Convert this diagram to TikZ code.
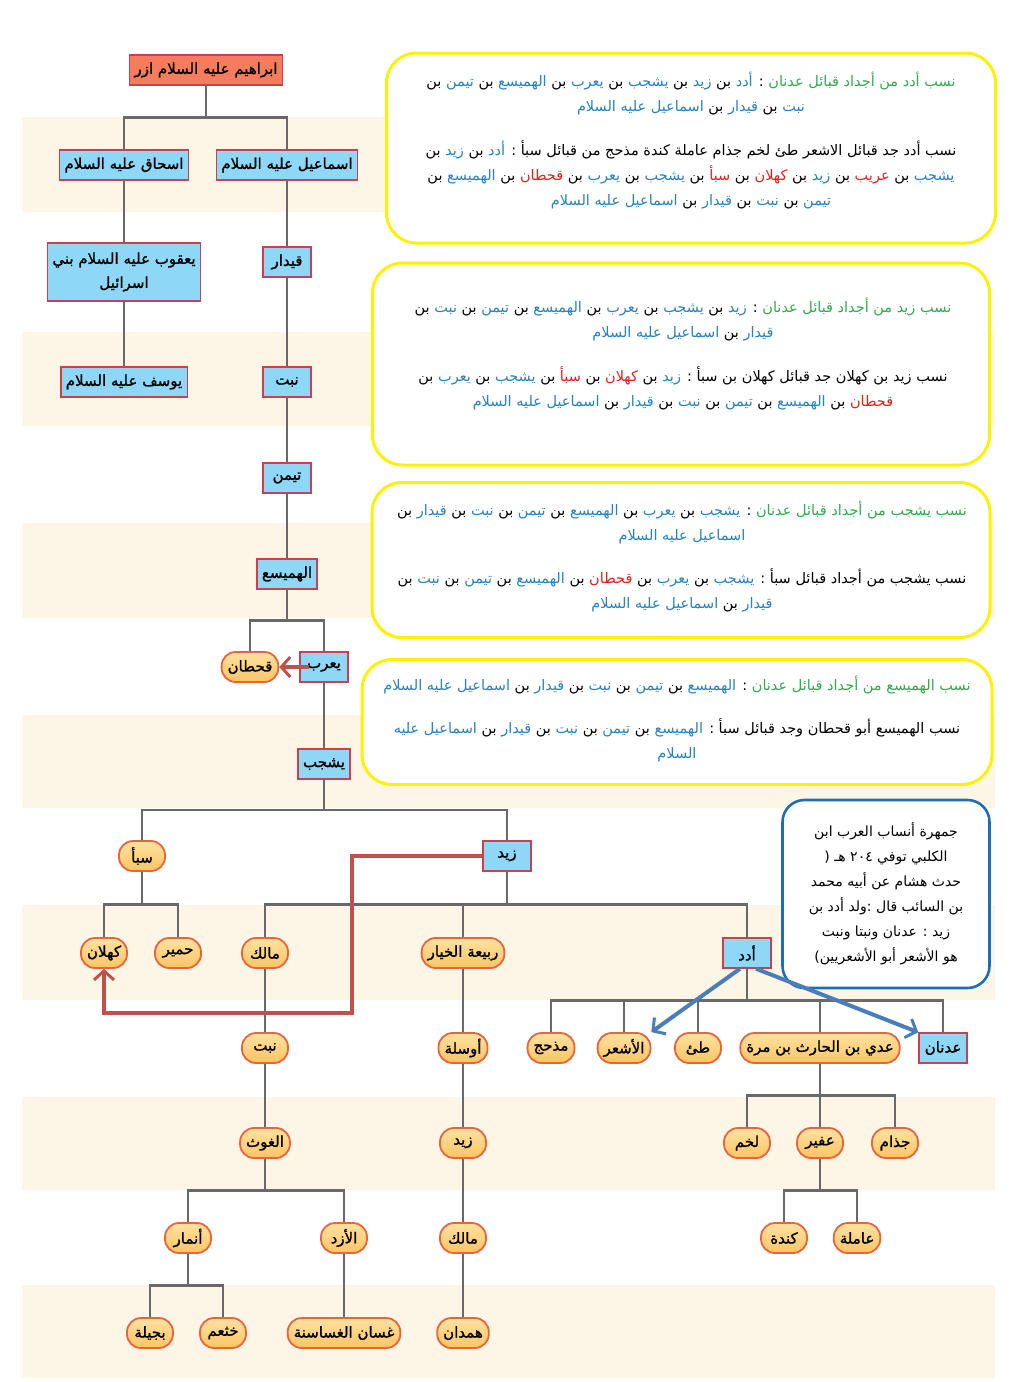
\documentclass[tikz,border=0pt]{standalone}
\usepackage{fontspec}
\newfontfamily\arabicfont[Script=Arabic]{DejaVu Sans}
\newfontfamily\treefont[Script=Arabic,FakeBold=1.2]{DejaVu Sans}
% coloured faces: the colour belongs to the font, so TeX--XeT can reverse the line freely
\newfontfamily\namefont[Script=Arabic,Color=2882BE]{DejaVu Sans}
\newfontfamily\tribefont[Script=Arabic,Color=32AA50]{DejaVu Sans}
\newfontfamily\qahtanfont[Script=Arabic,Color=E61E1E]{DejaVu Sans}
\TeXXeTstate=1
\usepackage{tikz}
\usetikzlibrary{positioning,arrows.meta,backgrounds,calc}

\definecolor{bandtan}{RGB}{253,245,230}
\definecolor{linkgray}{RGB}{105,105,105}
\definecolor{rootfill}{RGB}{245,124,92}
\definecolor{edgered}{RGB}{200,65,80}
\definecolor{sonblue}{RGB}{143,215,246}
\definecolor{pilltop}{RGB}{255,226,160}
\definecolor{pillbot}{RGB}{251,196,100}
\definecolor{pilledge}{RGB}{232,100,60}
\definecolor{notebord}{RGB}{255,242,0}
\definecolor{sourceblue}{RGB}{30,110,180}
\definecolor{redarrow}{RGB}{192,80,77}
\definecolor{bluearrow}{RGB}{74,126,187}

\newcommand{\artxt}[1]{\beginR#1\endR}
\newcommand{\txtb}[1]{{\namefont#1}}
\newcommand{\txtg}[1]{{\tribefont#1}}
\newcommand{\txtr}[1]{{\qahtanfont#1}}

\begin{document}
\begin{tikzpicture}[
  x=1pt, y=-1pt,
  font=\treefont\fontsize{15}{18}\selectfont,
  son/.style={rectangle, draw=edgered, line width=1.4pt, fill=sonblue,
              minimum width=48pt, minimum height=30pt, inner xsep=5pt, inner ysep=2pt},
  rootbox/.style={son, fill=rootfill},
  tribe/.style={rectangle, rounded corners=14pt, draw=pilledge, line width=1.8pt,
                top color=pilltop, bottom color=pillbot, minimum width=46pt,
                minimum height=30pt, inner xsep=6pt, inner ysep=2pt},
  link/.style={draw=linkgray, line width=2.2pt},
  elbow/.style={to path={|- ($(\tikztostart)!.5!(\tikztotarget)$) -| (\tikztotarget)}},
  note/.style={rectangle, rounded corners=30pt, draw=notebord, line width=3pt, fill=white},
  notetext/.style={align=center, font=\arabicfont\fontsize{14.5}{25}\selectfont},
  source/.style={rectangle, rounded corners=22pt, draw=sourceblue, line width=2.6pt,
                 fill=white, minimum width=207pt, minimum height=188pt, align=center,
                 font=\arabicfont\fontsize{14}{25}\selectfont},
  hint/.style={-{Straight Barb[length=9pt,width=20pt,line width=3pt]}, line width=4.5pt},
  node distance=95pt, on grid
]
\useasboundingbox (0,0) rectangle (1022,1382);

% ── Ibrahim line ─────────────────────────────────────────────────────────────
\node[rootbox] (ibrahim) at (206,70) {\artxt{ابراهيم عليه السلام ازر}};
\node[son, below left=95pt and 82pt of ibrahim]  (ishaq)  {\artxt{اسحاق عليه السلام}};
\node[son, below right=95pt and 81pt of ibrahim] (ismail) {\artxt{اسماعيل عليه السلام}};
\node[son, below=107pt of ishaq, align=center, minimum width=152pt, minimum height=58pt,
      font=\treefont\fontsize{15}{24}\selectfont] (yaqub)
  {\artxt{يعقوب عليه السلام بني}\\\artxt{اسرائيل}};
\node[son, below=110pt of yaqub]  (yusuf)  {\artxt{يوسف عليه السلام}};
\node[son, below=97pt of ismail]  (qaydar) {\artxt{قيدار}};
\node[son, below=120pt of qaydar] (nabit)  {\artxt{نبت}};
\node[son, below=96pt of nabit]   (taiman) {\artxt{تيمن}};
\node[son, below=96pt of taiman]  (hamaisa) {\artxt{الهميسع}};
\node[tribe, below left=93pt and 37pt of hamaisa]  (qahtan) {\artxt{قحطان}};
\node[son, below right=93pt and 37pt of hamaisa]   (yarub)  {\artxt{يعرب}};
\node[son, below=97pt of yarub] (yashjub) {\artxt{يشجب}};

% ── Saba and Zaid ────────────────────────────────────────────────────────────
\node[tribe, below left=92pt and 182pt of yashjub] (saba) {\artxt{سبأ}};
\node[son, below right=92pt and 183pt of yashjub]  (zaid) {\artxt{زيد}};
\node[tribe, below left=97pt and 38pt of saba]  (kahlan) {\artxt{كهلان}};
\node[tribe, below right=97pt and 36pt of saba] (himyar) {\artxt{حمير}};
\node[tribe, below left=97pt and 242pt of zaid] (malik)  {\artxt{مالك}};
\node[tribe, below left=97pt and 44pt of zaid]  (rabia)  {\artxt{ربيعة الخيار}};
\node[son, below right=97pt and 240pt of zaid]  (udad)   {\artxt{أدد}};

% ── sons of Udad ─────────────────────────────────────────────────────────────
\node[tribe, below left=95pt and 196pt of udad]  (madhhij) {\artxt{مذحج}};
\node[tribe, below left=95pt and 123pt of udad]  (ashar)   {\artxt{الأشعر}};
\node[tribe, below left=95pt and 49pt of udad]   (tayy)    {\artxt{طئ}};
\node[tribe, below right=95pt and 73pt of udad]  (adi)     {\artxt{عدي بن الحارث بن مرة}};
\node[son, below right=95pt and 196pt of udad]   (adnan)   {\artxt{عدنان}};
\node[tribe, below left=95pt and 73pt of adi]    (lakhm)   {\artxt{لخم}};
\node[tribe, below=95pt of adi]                  (ufair)   {\artxt{عفير}};
\node[tribe, below right=95pt and 75pt of adi]   (judham)  {\artxt{جذام}};
\node[tribe, below left=95pt and 36pt of ufair]  (kinda)   {\artxt{كندة}};
\node[tribe, below right=95pt and 37pt of ufair] (amila)   {\artxt{عاملة}};

% ── Malik and Rabia lines ────────────────────────────────────────────────────
\node[tribe, below=95pt of malik]  (nabtk)  {\artxt{نبت}};
\node[tribe, below=95pt of nabtk]  (ghawth) {\artxt{الغوث}};
\node[tribe, below left=95pt and 77pt of ghawth]  (anmar)   {\artxt{أنمار}};
\node[tribe, below right=95pt and 79pt of ghawth] (azd)     {\artxt{الأزد}};
\node[tribe, below left=95pt and 38pt of anmar]   (bajila)  {\artxt{بجيلة}};
\node[tribe, below right=95pt and 35pt of anmar]  (khatham) {\artxt{خثعم}};
\node[tribe, below=95pt of azd]    (ghassan) {\artxt{غسان الغساسنة}};
\node[tribe, below=95pt of rabia]  (awsala) {\artxt{أوسلة}};
\node[tribe, below=95pt of awsala] (zaidr)  {\artxt{زيد}};
\node[tribe, below=95pt of zaidr]  (malikr) {\artxt{مالك}};
\node[tribe, below=95pt of malikr] (hamdan) {\artxt{همدان}};

% ── lineage notes ────────────────────────────────────────────────────────────
\node[note, minimum width=609pt, minimum height=190pt] (noteA) at (691,148) {};
\node[notetext] (textA) at (691,141) {%
  \artxt{\txtg{نسب أدد من أجداد قبائل عدنان} : \txtb{أدد} بن \txtb{زيد} بن \txtb{يشجب} بن \txtb{يعرب} بن \txtb{الهميسع} بن \txtb{تيمن} بن}\\
  \artxt{\txtb{نبت} بن \txtb{قيدار} بن \txtb{اسماعيل عليه السلام}}\\[19pt]
  \artxt{نسب أدد جد قبائل الاشعر طئ لخم جذام عاملة كندة مذحج من قبائل سبأ : \txtb{أدد} بن \txtb{زيد} بن}\\
  \artxt{\txtb{يشجب} بن \txtr{عريب} بن \txtb{زيد} بن \txtr{كهلان} بن \txtr{سبأ} بن \txtb{يشجب} بن \txtb{يعرب} بن \txtr{قحطان} بن \txtb{الهميسع} بن}\\
  \artxt{\txtb{تيمن} بن \txtb{نبت} بن \txtb{قيدار} بن \txtb{اسماعيل عليه السلام}}};

\node[note, minimum width=617pt, minimum height=202pt] (noteB) at (681,364) {};
\node[notetext] (textB) at (683,354) {%
  \artxt{\txtg{نسب زيد من أجداد قبائل عدنان} : \txtb{زيد} بن \txtb{يشجب} بن \txtb{يعرب} بن \txtb{الهميسع} بن \txtb{تيمن} بن \txtb{نبت} بن}\\
  \artxt{\txtb{قيدار} بن \txtb{اسماعيل عليه السلام}}\\[19pt]
  \artxt{نسب زيد بن كهلان جد قبائل كهلان بن سبأ : \txtb{زيد} بن \txtr{كهلان} بن \txtr{سبأ} بن \txtb{يشجب} بن \txtb{يعرب} بن}\\
  \artxt{\txtr{قحطان} بن \txtb{الهميسع} بن \txtb{تيمن} بن \txtb{نبت} بن \txtb{قيدار} بن \txtb{اسماعيل عليه السلام}}};

\node[note, minimum width=618pt, minimum height=155pt] (noteC) at (681,560) {};
\node[notetext] (textC) at (682,557) {%
  \artxt{\txtg{نسب يشجب من أجداد قبائل عدنان} : \txtb{يشجب} بن \txtb{يعرب} بن \txtb{الهميسع} بن \txtb{تيمن} بن \txtb{نبت} بن \txtb{قيدار} بن}\\
  \artxt{\txtb{اسماعيل عليه السلام}}\\[18pt]
  \artxt{نسب يشجب من أجداد قبائل سبأ : \txtb{يشجب} بن \txtb{يعرب} بن \txtr{قحطان} بن \txtb{الهميسع} بن \txtb{تيمن} بن \txtb{نبت} بن}\\
  \artxt{\txtb{قيدار} بن \txtb{اسماعيل عليه السلام}}};

\node[note, minimum width=630pt, minimum height=125pt] (noteD) at (677,722) {};
\node[notetext] (textD) at (677,719) {%
  \artxt{\txtg{نسب الهميسع من أجداد قبائل عدنان} : \txtb{الهميسع} بن \txtb{تيمن} بن \txtb{نبت} بن \txtb{قيدار} بن \txtb{اسماعيل عليه السلام}}\\[18pt]
  \artxt{نسب الهميسع أبو قحطان وجد قبائل سبأ : \txtb{الهميسع} بن \txtb{تيمن} بن \txtb{نبت} بن \txtb{قيدار} بن \txtb{اسماعيل عليه}}\\
  \artxt{\txtb{السلام}}};

\node[source] (jamhara) at (886,894) {%
  \artxt{جمهرة أنساب العرب ابن}\\
  \artxt{الكلبي توفي ٢٠٤ هـ (}\\
  \artxt{حدث هشام عن أبيه محمد}\\
  \artxt{بن السائب قال :ولد أدد بن}\\
  \artxt{زيد : عدنان ونبتا ونبت}\\
  \artxt{هو الأشعر أبو الأشعريين)}};

% ── bands and tree links ─────────────────────────────────────────────────────
\begin{scope}[on background layer]
  \fill[bandtan] (22,117) rectangle (995,212);
  \fill[bandtan] (22,332) rectangle (995,426);
  \fill[bandtan] (22,523) rectangle (995,618);
  \fill[bandtan] (22,715) rectangle (995,808);
  \fill[bandtan] (22,905) rectangle (995,1000);
  \fill[bandtan] (22,1097) rectangle (995,1190);
  \fill[bandtan] (22,1285) rectangle (995,1378);

  \draw[link] (ibrahim) to[elbow] (ishaq) (ibrahim) to[elbow] (ismail);
  \draw[link] (ishaq) -- (yaqub) -- (yusuf);
  \draw[link] (ismail) -- (qaydar) -- (nabit) -- (taiman) -- (hamaisa);
  \draw[link] (hamaisa) to[elbow] (qahtan) (hamaisa) to[elbow] (yarub);
  \draw[link] (yarub) -- (yashjub);
  \draw[link] (yashjub) to[elbow] (saba) (yashjub) to[elbow] (zaid);
  \draw[link] (saba) to[elbow] (kahlan) (saba) to[elbow] (himyar);
  \draw[link] (zaid) to[elbow] (malik) (zaid) to[elbow] (rabia) (zaid) to[elbow] (udad);
  \draw[link] (udad) to[elbow] (madhhij) (udad) to[elbow] (ashar) (udad) to[elbow] (tayy)
              (udad) to[elbow] (adi) (udad) to[elbow] (adnan);
  \draw[link] (adi) to[elbow] (lakhm) (adi) -- (ufair) (adi) to[elbow] (judham);
  \draw[link] (ufair) to[elbow] (kinda) (ufair) to[elbow] (amila);
  \draw[link] (malik) -- (nabtk) -- (ghawth);
  \draw[link] (ghawth) to[elbow] (anmar) (ghawth) to[elbow] (azd);
  \draw[link] (anmar) to[elbow] (bajila) (anmar) to[elbow] (khatham);
  \draw[link] (azd) -- (ghassan);
  \draw[link] (rabia) -- (awsala) -- (zaidr) -- (malikr) -- (hamdan);
\end{scope}

% ── pointers ─────────────────────────────────────────────────────────────────
\coordinate (redturn) at (352,1013);
\draw[hint, redarrow] ([xshift=10pt]yarub.west) -- (qahtan.east);
\draw[hint, redarrow] (zaid.west) -| (redturn) -| (kahlan.south);
\draw[hint, bluearrow, line width=4pt] ([xshift=-7pt]udad.south) -- (ashar.north east);
\draw[hint, bluearrow, line width=4pt] ([xshift=9pt]udad.south) -- (adnan.north west);
\end{tikzpicture}
\end{document}
